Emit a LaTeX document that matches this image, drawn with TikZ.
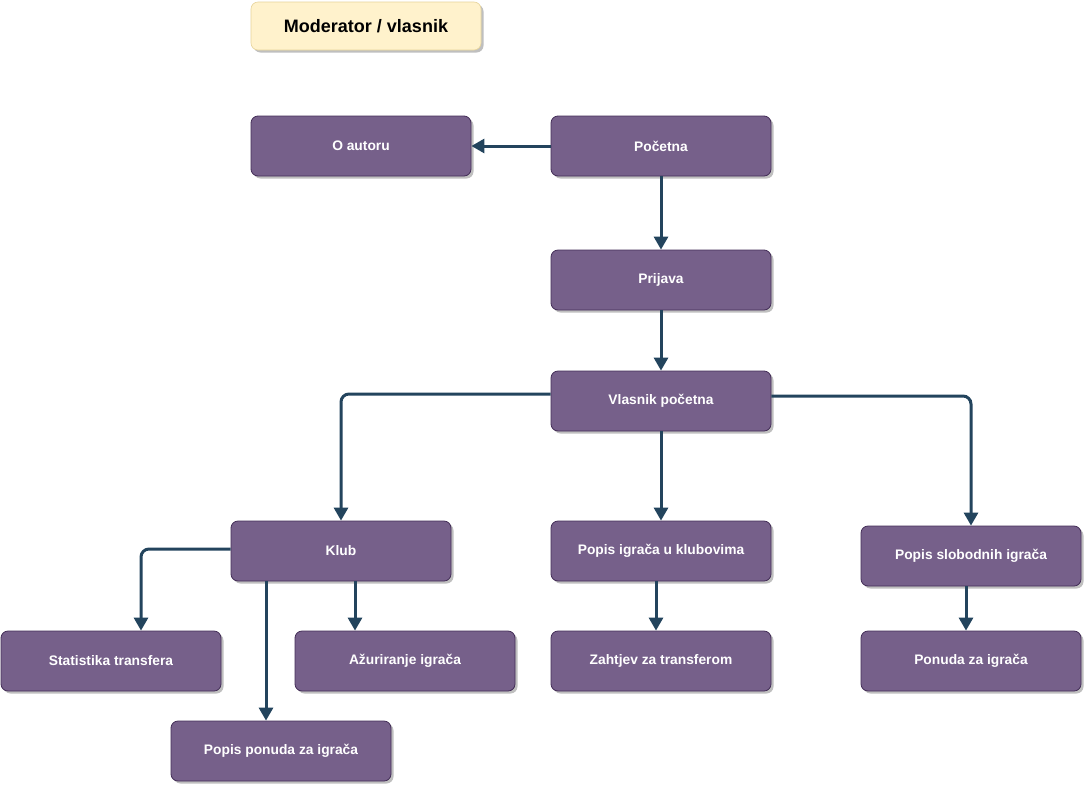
\documentclass[tikz,border=0pt]{standalone}
\usepackage{fontspec}
\setmainfont{Liberation Sans}
\usetikzlibrary{arrows.meta,shadows}
\definecolor{boxfill}{HTML}{76608A}
\definecolor{boxline}{HTML}{432D57}
\definecolor{arrowc}{HTML}{23445D}
\definecolor{notefill}{HTML}{FFF2CC}
\definecolor{noteline}{HTML}{D6B656}
\tikzset{
  pagebox/.style={draw=boxline, fill=boxfill, rounded corners=7pt, line width=0.8pt,
    minimum width=220pt, minimum height=60pt, text=white, font=\bfseries\fontsize{13.8}{16}\selectfont,
    drop shadow={shadow xshift=2.5pt, shadow yshift=-2.5pt, fill=black, opacity=0.25}},
  titlebox/.style={draw=noteline!60, fill=notefill, rounded corners=7pt, line width=0.6pt,
    minimum width=230pt, minimum height=48pt, text=black, font=\bfseries\fontsize{18}{20}\selectfont,
    drop shadow={shadow xshift=2.5pt, shadow yshift=-2.5pt, fill=black, opacity=0.25}},
  link/.style={draw=arrowc, line width=3pt, rounded corners=8pt,
    -{Triangle[length=13pt,width=14pt]}}
}
\begin{document}
\begin{tikzpicture}[x=1pt,y=-1pt]
\useasboundingbox (0,0) rectangle (1084,785);
\node[titlebox] (title) at (366,26) {Moderator / vlasnik};
\node[pagebox] (autor) at (361,146) {O autoru};
\node[pagebox] (pocetna) at (661,146) {Početna};
\node[pagebox] (prijava) at (661,280) {Prijava};
\node[pagebox] (vlasnik) at (661,401) {Vlasnik početna};
\node[pagebox] (klub) at (341,551) {Klub};
\node[pagebox] (popisk) at (661,551) {Popis igrača u klubovima};
\node[pagebox] (popiss) at (971,556) {Popis slobodnih igrača};
\node[pagebox] (stat) at (111,661) {Statistika transfera};
\node[pagebox] (azur) at (405,661) {Ažuriranje igrača};
\node[pagebox] (zahtjev) at (661,661) {Zahtjev za transferom};
\node[pagebox] (ponuda) at (971,661) {Ponuda za igrača};
\node[pagebox] (popisp) at (281,751) {Popis ponuda za igrača};

\draw[link] (pocetna.west) -- (autor.east);
\draw[link] (pocetna.south) -- (prijava.north);
\draw[link] (prijava.south) -- (vlasnik.north);
\draw[link] ([yshift=7pt]vlasnik.west) -| (klub.north);
\draw[link] ([yshift=5pt]vlasnik.east) -| (popiss.north);
\draw[link] (vlasnik.south) -- (popisk.north);
\draw[link] ([yshift=2pt]klub.west) -| (stat.north -| 141,0);
\draw[link] (klub.south -| 266,0) -- (popisp.north -| 266,0);
\draw[link] (klub.south -| 355,0) -- (azur.north -| 355,0);
\draw[link] (popisk.south -| 656,0) -- (zahtjev.north -| 656,0);
\draw[link] (popiss.south -| 966,0) -- (ponuda.north -| 966,0);
\end{tikzpicture}
\end{document}
